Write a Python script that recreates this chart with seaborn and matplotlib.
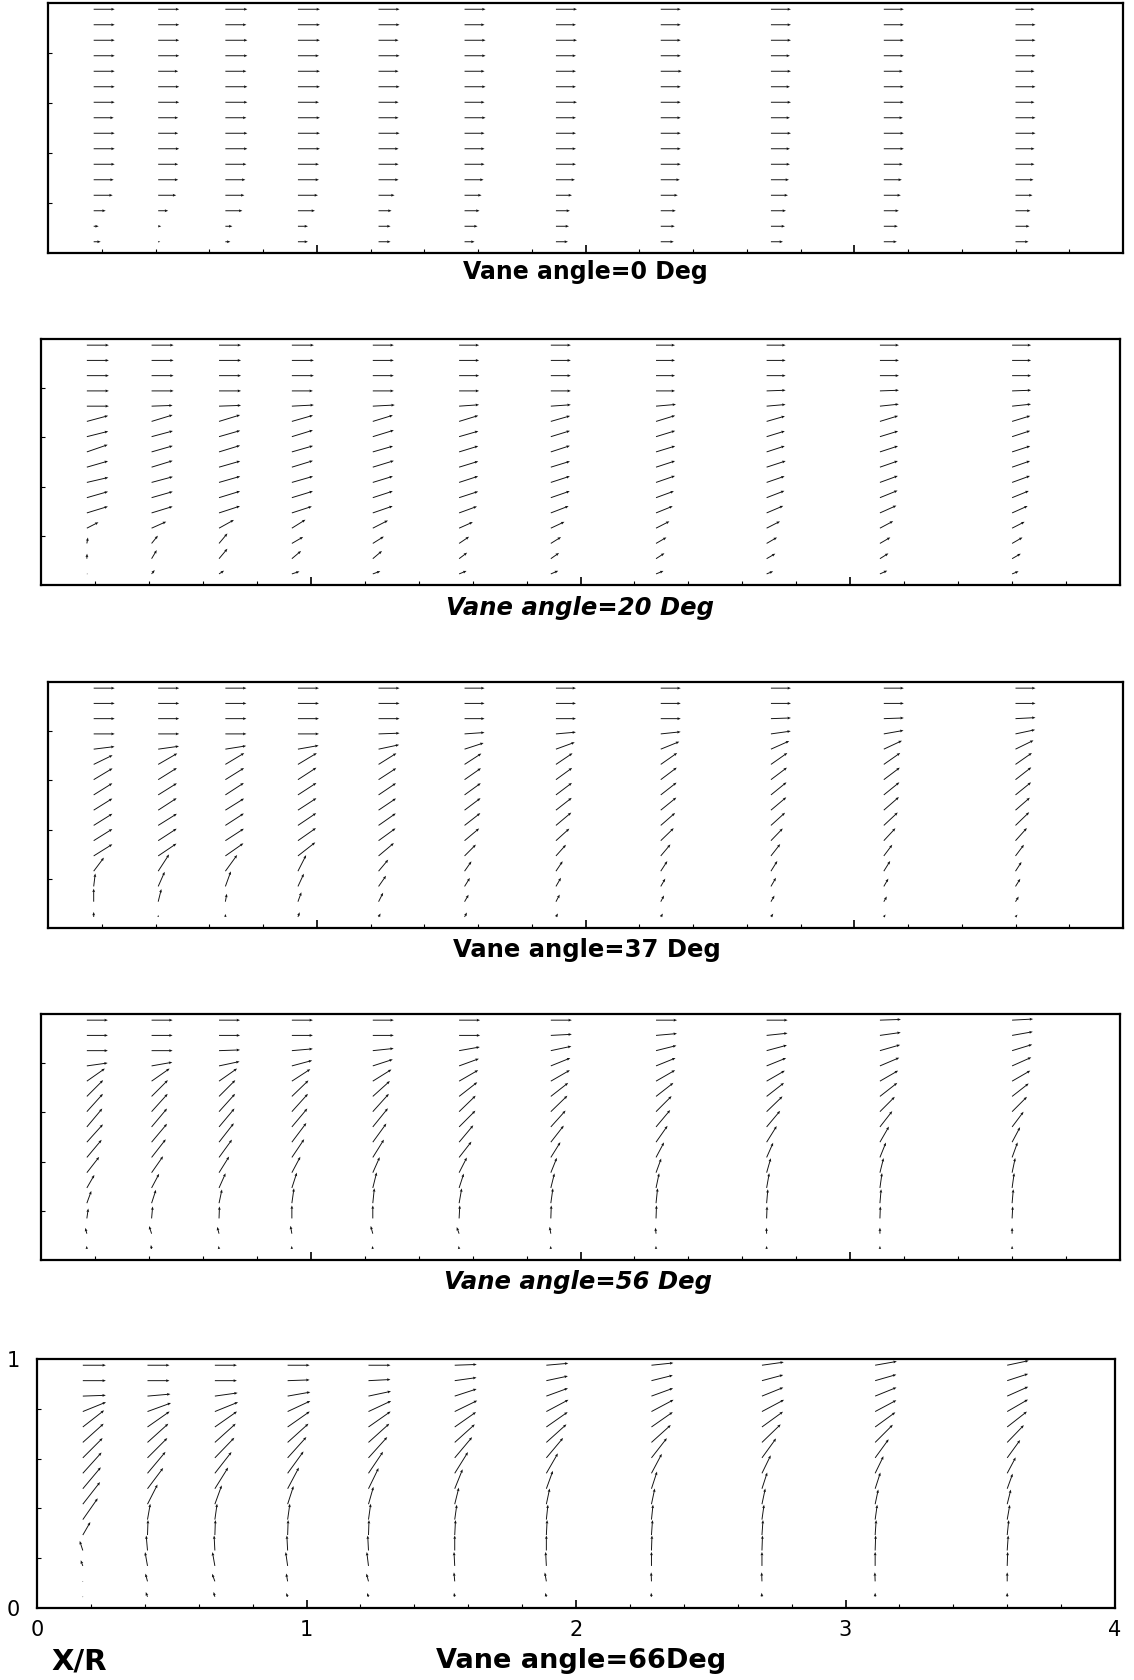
import numpy as np
import matplotlib
matplotlib.use("Agg")
import matplotlib.pyplot as plt
from matplotlib.ticker import MultipleLocator
import seaborn as sns

sns.set_theme(style="white")
plt.rcParams["font.family"] = ["DejaVu Sans"]

# Measurement stations (X/R) and radial levels (r/R)
x_stations = [0.17, 0.41, 0.66, 0.93, 1.23, 1.55, 1.89, 2.28, 2.69, 3.11, 3.60]
r_levels = [0.045, 0.107, 0.169, 0.231, 0.293, 0.355, 0.417, 0.479,
            0.541, 0.603, 0.665, 0.727, 0.789, 0.851, 0.913, 0.975]

vane_angles = [0, 20, 37, 56, 66]
panel_titles = ["Vane angle=0 Deg", "Vane angle=20 Deg", "Vane angle=37 Deg",
                "Vane angle=56 Deg", "Vane angle=66Deg"]

# Flow direction (deg from axial) per station, rows from r/R=0.045 up to 0.975
angle_00 = [[0] * 16 for _ in range(11)]
speed_00 = [
    [7, 5, 12, 19, 20, 21, 21, 21, 20, 21, 21, 21, 21, 21, 21, 21],
    [2, 3, 10, 18, 20, 20, 21, 20, 20, 21, 21, 20, 21, 21, 21, 21],
    [5, 7, 17, 19, 20, 21, 22, 22, 21, 22, 22, 21, 22, 22, 21, 22],
    [10, 10, 17, 20, 21, 21, 22, 22, 22, 21, 22, 22, 21, 22, 22, 22],
    [12, 12, 13, 16, 20, 20, 20, 21, 20, 20, 21, 20, 21, 20, 21, 21],
    [10, 13, 15, 17, 19, 20, 20, 20, 21, 20, 21, 20, 21, 21, 20, 21],
    [12, 13, 14, 16, 19, 20, 20, 20, 20, 21, 20, 20, 20, 21, 20, 21],
    [13, 14, 15, 17, 19, 20, 20, 20, 20, 20, 20, 21, 20, 20, 20, 20],
    [12, 14, 15, 17, 18, 19, 19, 20, 19, 20, 19, 20, 19, 20, 20, 20],
    [13, 14, 15, 17, 18, 19, 20, 20, 19, 20, 20, 19, 20, 20, 20, 20],
    [13, 14, 15, 17, 18, 19, 19, 20, 20, 19, 20, 19, 20, 20, 20, 19],
]

angle_20 = [
    [0, 88, 80, 27, 17, 16, 13, 16, 19, 14, 15, 0, 0, 0, 0, 0],
    [52, 59, 51, 24, 17, 16, 15, 17, 16, 15, 17, 2, 0, 0, 0, 0],
    [33, 50, 50, 29, 18, 17, 16, 16, 17, 16, 17, 2, 0, 0, 0, 0],
    [18, 40, 30, 32, 18, 17, 16, 17, 16, 17, 16, 3, 0, 0, 0, 0],
    [20, 40, 32, 27, 19, 18, 17, 17, 16, 17, 17, 3, 0, 0, 0, 0],
    [22, 37, 34, 24, 20, 18, 18, 17, 17, 16, 17, 4, 0, 0, 0, 0],
    [23, 35, 32, 25, 21, 19, 18, 17, 18, 17, 16, 4, 0, 0, 0, 0],
    [22, 33, 30, 27, 22, 20, 19, 18, 17, 17, 17, 5, 0, 0, 0, 0],
    [22, 30, 30, 27, 23, 21, 19, 18, 18, 17, 16, 5, 2, 0, 0, 0],
    [24, 32, 30, 28, 24, 22, 20, 19, 18, 17, 17, 6, 2, 0, 0, 0],
    [22, 30, 30, 27, 24, 22, 20, 19, 18, 18, 17, 6, 2, 0, 0, 0],
]
speed_20 = [
    [1, 5, 6, 13, 22, 22, 22, 22, 22, 22, 22, 22, 22, 22, 22, 22],
    [5, 10, 10, 16, 22, 22, 22, 22, 22, 22, 22, 21, 22, 22, 22, 22],
    [6, 13, 13, 17, 22, 22, 22, 22, 22, 22, 22, 22, 22, 22, 22, 22],
    [8, 12, 13, 16, 21, 22, 22, 22, 22, 22, 22, 22, 21, 22, 22, 22],
    [8, 12, 13, 17, 21, 21, 21, 22, 21, 22, 21, 22, 21, 21, 21, 21],
    [8, 10, 12, 15, 19, 20, 20, 20, 20, 20, 20, 20, 20, 20, 20, 20],
    [8, 10, 12, 15, 19, 20, 20, 20, 20, 20, 20, 20, 20, 20, 20, 20],
    [8, 10, 12, 15, 18, 19, 20, 20, 20, 20, 20, 20, 19, 19, 19, 19],
    [7, 10, 12, 15, 18, 19, 19, 20, 19, 19, 19, 19, 19, 19, 19, 19],
    [8, 10, 12, 15, 18, 19, 19, 19, 19, 19, 19, 19, 19, 19, 19, 19],
    [7, 10, 12, 14, 17, 18, 19, 19, 19, 19, 19, 19, 19, 19, 19, 19],
]

angle_37 = [
    [90, 90, 83, 53, 32, 32, 32, 32, 32, 31, 26, 7, 0, 0, 0, 0],
    [90, 76, 66, 57, 34, 33, 32, 33, 32, 32, 30, 8, 0, 0, 0, 0],
    [90, 80, 70, 54, 35, 33, 33, 32, 33, 32, 31, 9, 0, 0, 0, 0],
    [70, 70, 65, 63, 38, 35, 34, 33, 33, 33, 31, 10, 0, 0, 0, 0],
    [60, 63, 55, 50, 40, 36, 35, 34, 34, 33, 32, 12, 2, 0, 0, 0],
    [62, 60, 58, 55, 45, 40, 38, 37, 36, 35, 33, 18, 4, 0, 0, 0],
    [60, 62, 60, 56, 48, 42, 40, 38, 37, 36, 34, 20, 5, 0, 0, 0],
    [58, 62, 60, 57, 50, 44, 41, 39, 38, 37, 35, 22, 6, 0, 0, 0],
    [55, 60, 60, 58, 52, 46, 42, 40, 39, 37, 35, 24, 8, 2, 0, 0],
    [55, 60, 60, 58, 53, 47, 43, 41, 39, 37, 35, 25, 10, 2, 0, 0],
    [50, 58, 58, 57, 53, 48, 44, 41, 39, 38, 35, 26, 12, 3, 0, 0],
]
speed_37 = [
    [5, 13, 13, 17, 22, 22, 22, 22, 22, 22, 21, 21, 21, 21, 21, 21],
    [2, 13, 16, 20, 22, 22, 22, 22, 22, 22, 22, 21, 21, 21, 21, 21],
    [3, 8, 16, 20, 22, 22, 22, 22, 22, 22, 22, 21, 21, 21, 21, 21],
    [5, 10, 14, 18, 22, 22, 22, 22, 22, 22, 22, 21, 21, 21, 21, 21],
    [4, 10, 13, 15, 20, 21, 21, 21, 21, 21, 21, 21, 21, 21, 21, 21],
    [5, 8, 10, 12, 16, 19, 20, 20, 20, 20, 20, 20, 20, 20, 20, 20],
    [4, 8, 10, 12, 15, 18, 20, 20, 20, 20, 20, 20, 20, 20, 20, 20],
    [4, 7, 9, 12, 15, 18, 19, 20, 20, 20, 20, 20, 20, 20, 20, 20],
    [4, 7, 10, 12, 15, 17, 19, 20, 20, 20, 20, 20, 20, 20, 20, 20],
    [3, 6, 9, 12, 14, 17, 19, 20, 20, 20, 20, 20, 20, 20, 20, 20],
    [3, 6, 9, 11, 14, 17, 19, 19, 20, 20, 20, 20, 20, 20, 20, 20],
]

angle_56 = [
    [95, 105, 82, 70, 60, 52, 50, 48, 50, 48, 45, 35, 8, 0, 0, 0],
    [100, 108, 85, 72, 62, 55, 52, 50, 50, 48, 45, 35, 10, 0, 0, 0],
    [100, 105, 88, 78, 66, 58, 54, 52, 50, 48, 45, 35, 12, 2, 0, 0],
    [95, 100, 90, 82, 72, 62, 56, 53, 50, 48, 44, 33, 15, 5, 0, 0],
    [100, 105, 90, 84, 76, 66, 58, 54, 51, 48, 42, 32, 18, 6, 0, 0],
    [100, 110, 87, 80, 72, 63, 52, 50, 45, 44, 38, 30, 20, 10, 0, 0],
    [95, 100, 88, 82, 76, 68, 58, 52, 48, 44, 38, 30, 22, 12, 3, 0],
    [92, 96, 88, 84, 78, 70, 62, 55, 50, 45, 38, 30, 22, 14, 5, 0],
    [90, 92, 88, 85, 80, 74, 66, 58, 50, 44, 38, 30, 22, 15, 6, 0],
    [90, 90, 88, 85, 82, 76, 68, 60, 52, 45, 38, 30, 23, 16, 8, 2],
    [90, 90, 87, 85, 82, 78, 70, 62, 53, 45, 38, 30, 24, 17, 10, 3],
]
speed_56 = [
    [3, 6, 10, 13, 15, 20, 23, 24, 24, 24, 23, 22, 21, 21, 21, 21],
    [4, 8, 12, 14, 16, 20, 23, 24, 24, 24, 23, 22, 21, 21, 21, 21],
    [3, 7, 12, 14, 16, 19, 22, 24, 24, 24, 23, 22, 21, 21, 21, 21],
    [3, 8, 13, 15, 16, 18, 22, 24, 24, 24, 23, 22, 21, 21, 21, 21],
    [3, 8, 13, 15, 16, 17, 21, 23, 24, 24, 23, 22, 21, 21, 21, 21],
    [3, 7, 13, 15, 15, 17, 20, 22, 23, 23, 23, 22, 21, 21, 21, 21],
    [3, 7, 13, 15, 15, 16, 18, 21, 22, 23, 22, 22, 21, 21, 21, 21],
    [3, 6, 13, 15, 15, 15, 17, 20, 22, 22, 22, 22, 21, 21, 21, 21],
    [3, 6, 12, 14, 15, 15, 16, 19, 21, 22, 22, 21, 21, 21, 21, 21],
    [3, 6, 12, 14, 15, 15, 16, 18, 20, 21, 22, 21, 21, 21, 21, 21],
    [3, 6, 12, 14, 15, 15, 16, 17, 19, 21, 21, 21, 21, 21, 21, 21],
]

angle_66 = [
    [0, 0, 110, 108, 60, 55, 52, 50, 48, 45, 42, 38, 22, 2, 0, 0],
    [110, 105, 100, 95, 88, 80, 63, 53, 50, 45, 42, 35, 20, 5, 0, 0],
    [105, 110, 100, 93, 88, 82, 70, 58, 52, 46, 42, 35, 22, 8, 0, 0],
    [110, 100, 98, 93, 88, 82, 72, 62, 54, 48, 42, 35, 25, 10, 2, 0],
    [110, 105, 97, 93, 88, 82, 74, 64, 56, 48, 42, 35, 25, 12, 3, 0],
    [100, 95, 93, 90, 87, 82, 76, 68, 58, 50, 42, 35, 26, 18, 8, 2],
    [105, 100, 93, 90, 87, 84, 78, 70, 60, 50, 42, 35, 28, 20, 12, 5],
    [95, 92, 90, 88, 86, 84, 78, 72, 62, 52, 42, 35, 28, 20, 14, 6],
    [95, 92, 90, 88, 86, 82, 78, 72, 64, 54, 44, 36, 28, 22, 15, 8],
    [90, 92, 90, 88, 86, 82, 78, 72, 64, 54, 45, 36, 28, 22, 16, 10],
    [90, 90, 88, 86, 84, 80, 76, 70, 62, 54, 46, 38, 30, 24, 18, 12],
]
speed_66 = [
    [0, 0, 6, 10, 15, 26, 28, 28, 28, 28, 28, 27, 25, 23, 23, 23],
    [5, 8, 14, 15, 15, 16, 22, 26, 28, 28, 28, 27, 25, 23, 22, 22],
    [5, 8, 14, 15, 15, 16, 20, 25, 27, 28, 28, 27, 25, 23, 22, 22],
    [4, 8, 14, 15, 15, 16, 19, 24, 27, 28, 28, 27, 25, 23, 22, 22],
    [4, 8, 14, 15, 15, 16, 18, 23, 26, 28, 28, 27, 25, 23, 22, 22],
    [4, 9, 14, 15, 15, 15, 17, 21, 25, 27, 27, 26, 25, 23, 22, 22],
    [4, 9, 14, 15, 15, 15, 16, 19, 23, 26, 27, 26, 25, 23, 22, 22],
    [4, 9, 14, 15, 15, 15, 16, 18, 22, 25, 26, 26, 25, 23, 22, 22],
    [4, 9, 14, 15, 15, 15, 16, 17, 20, 24, 26, 26, 25, 23, 22, 22],
    [4, 9, 14, 15, 15, 15, 15, 17, 19, 23, 25, 25, 24, 23, 22, 22],
    [4, 9, 14, 15, 15, 15, 15, 16, 18, 22, 24, 25, 24, 23, 22, 22],
]

angle_sets = [angle_00, angle_20, angle_37, angle_56, angle_66]
speed_sets = [speed_00, speed_20, speed_37, speed_56, speed_66]

# Panel frames in pixels: left, right, top, bottom; title centre (x, y)
W, H = 1134, 1680
frames = [(48, 1123, 3, 253), (41, 1120, 339, 585), (48, 1123, 682, 928),
          (41, 1120, 1014, 1260), (37, 1115, 1359, 1608)]
title_pos = [(585, 272), (580, 608), (587, 950), (578, 1282), (581, 1661)]
title_size = [17, 17.5, 17.5, 17.5, 19.5]
title_style = ["normal", "italic", "normal", "italic", "normal"]

fig = plt.figure(figsize=(W / 100, H / 100), dpi=100)
fig.patch.set_facecolor("white")

X, Y = np.meshgrid(x_stations, r_levels, indexing="ij")

for i, (l, r, t, b) in enumerate(frames):
    ax = fig.add_axes([l / W, 1 - b / H, (r - l) / W, (b - t) / H])
    ax.set_facecolor("white")
    ang = np.radians(np.array(angle_sets[i], dtype=float))
    spd = np.array(speed_sets[i], dtype=float)
    U = spd * np.cos(ang)
    V = spd * np.sin(ang)
    ax.quiver(X, Y, U, V, angles="uv", pivot="tail", scale_units="dots",
              scale=1.0, units="dots", width=0.95, headwidth=3.0,
              headlength=3.6, headaxislength=3.2, minlength=0.8,
              color="#111111")
    ax.set_xlim(0, 4)
    ax.set_ylim(0, 1)
    for s in ax.spines.values():
        s.set_visible(True)
        s.set_color("black")
        s.set_linewidth(1.6)
    ax.xaxis.set_major_locator(MultipleLocator(1))
    ax.xaxis.set_minor_locator(MultipleLocator(0.2))
    ax.yaxis.set_major_locator(MultipleLocator(1))
    ax.yaxis.set_minor_locator(MultipleLocator(0.2))
    ax.tick_params(axis="both", which="major", direction="in", length=6,
                   width=1.2, color="black", bottom=True, left=True,
                   top=False, right=False)
    ax.tick_params(axis="both", which="minor", direction="in", length=3,
                   width=0.8, color="black", bottom=True, left=True,
                   top=False, right=False)
    if i == len(frames) - 1:
        ax.set_xticks([0, 1, 2, 3, 4])
        ax.set_xticklabels(["0", "1", "2", "3", "4"], fontsize=15)
        ax.set_yticks([0, 1])
        ax.set_yticklabels(["0", "1"], fontsize=15)
        ax.tick_params(axis="x", which="major", pad=9, labelcolor="black")
        ax.tick_params(axis="y", which="major", pad=12, labelcolor="black")
    else:
        ax.set_xticklabels([])
        ax.set_yticklabels([])
    tx, ty = title_pos[i]
    fig.text(tx / W, 1 - ty / H, panel_titles[i], ha="center", va="center",
             fontsize=title_size[i], fontweight="bold",
             fontstyle=title_style[i], color="black")

fig.text(79 / W, 1 - 1661 / H, "X/R", ha="center", va="center",
         fontsize=21, fontweight="bold", color="black")

fig.savefig("out.png", dpi=100, facecolor="white")
